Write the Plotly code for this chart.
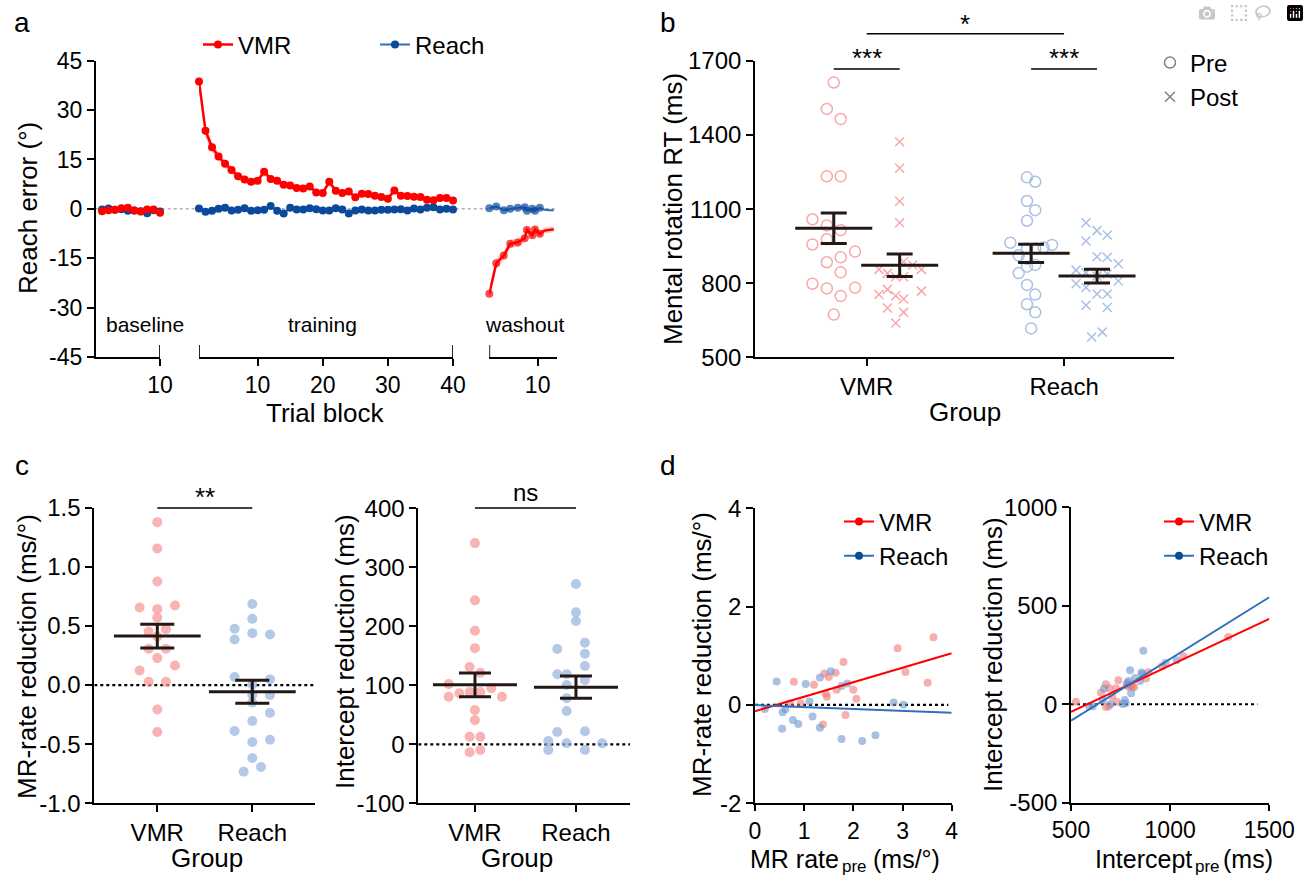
import numpy as np
import plotly.graph_objects as go

W, H = 1309, 877
FONT = "Liberation Sans, Arial, Helvetica, sans-serif"

# ---------------- Panel a data (reach error, deg) ----------------
base_blocks = [1, 2, 3, 4, 5, 6, 7, 8, 9, 10]
base_vmr = [-0.7, -0.4, -0.3, 0.2, 0.3, -0.5, -0.8, -0.2, -0.2, -1.2]
base_vmr_sem = [0.5, 0.5, 0.5, 0.5, 0.5, 0.5, 0.5, 0.5, 0.5, 0.5]
base_reach = [-0.2, 0.1, -0.3, -0.1, -0.6, -0.5, -0.7, -1.3, -0.4, -0.8]
base_reach_sem = [0.4, 0.4, 0.4, 0.4, 0.4, 0.4, 0.4, 0.4, 0.4, 0.4]

train_blocks = list(range(1, 41))
train_vmr = [38.7, 23.7, 18.7, 15.9, 13.7, 11.8, 9.9, 8.9, 8.2, 8.5,
             11.3, 9.1, 8.5, 7.3, 7.1, 6.3, 6.2, 6.8, 5.0, 4.8,
             8.2, 5.5, 4.8, 5.3, 3.5, 4.6, 4.5, 4.0, 3.6, 3.1,
             5.6, 4.0, 3.9, 3.7, 3.6, 2.8, 2.6, 3.3, 3.3, 2.5]
train_vmr_sem = [2.6, 2.0, 1.6, 1.4, 1.3, 1.2, 1.1, 1.0, 1.0, 1.0,
                 1.2, 1.0, 1.0, 0.9, 0.9, 0.9, 0.8, 0.9, 0.8, 0.8,
                 1.0, 0.8, 0.8, 0.8, 0.7, 0.8, 0.7, 0.7, 0.7, 0.7,
                 0.9, 0.7, 0.7, 0.7, 0.7, 0.6, 0.6, 0.7, 0.7, 0.7]
train_reach = [0.1, -0.9, -0.6, 0.0, 0.3, -0.5, -0.3, 0.2, -0.6, -0.4,
               -0.3, 0.9, -0.6, -1.4, 0.3, -0.2, -0.2, 0.2, -0.1, -0.5,
               -0.5, 0.2, -0.2, -1.4, -0.5, -0.2, -0.5, -0.5, -0.3, -0.3,
               -0.2, -0.1, -0.5, 0.1, -0.2, 0.3, 0.5, -0.2, 0.0, -0.2]
train_reach_sem = [0.4, 0.4, 0.4, 0.4, 0.4, 0.4, 0.4, 0.4, 0.4, 0.4,
                   0.4, 0.4, 0.4, 0.4, 0.4, 0.4, 0.4, 0.4, 0.4, 0.4,
                   0.4, 0.4, 0.4, 0.4, 0.4, 0.4, 0.4, 0.4, 0.4, 0.4,
                   0.4, 0.4, 0.4, 0.4, 0.4, 0.4, 0.4, 0.4, 0.4, 0.4]

wash_blocks = [1, 2.3, 3.7, 4.9, 6.3, 7.6, 8.0, 9.0, 9.5, 10.4, 11.3, 12.2, 13.0]
wash_marked = 10
wash_vmr = [-25.8, -16.5, -14.2, -10.6, -10.2, -8.9, -6.4, -8.0, -6.3, -7.6, -6.6, -6.3, -6.2]
wash_vmr_sem = [1.5, 1.6, 1.4, 1.3, 1.2, 1.1, 1.0, 1.0, 1.0, 1.0, 0.9, 0.9, 0.9]
wash_reach = [0.2, 0.7, -0.4, 0.0, 0.3, 0.5, -0.6, 0.0, -0.6, 0.3, -0.3, -0.4, -0.4]
wash_reach_sem = [0.4, 0.4, 0.4, 0.4, 0.4, 0.4, 0.4, 0.4, 0.4, 0.4, 0.4, 0.4, 0.4]

# ---------------- Panel b data (mental rotation RT, ms) ----------------
groups = ["VMR", "Reach"]
vmr_pre_rt = [1613, 1506, 1465, 1233, 1233, 1059, 1034, 1015, 978, 957,
              928, 905, 885, 844, 798, 779, 782, 748, 673]
vmr_pre_jit = [0, -0.035, 0.035, -0.035, 0.035, -0.108, -0.035, 0.035, -0.035, -0.108,
               0.108, 0.035, -0.035, 0.035, -0.108, -0.035, 0.108, 0.035, 0]
vmr_post_rt = [1373, 1266, 1132, 1045, 887, 874, 856, 840, 856, 826,
               826, 754, 775, 749, 736, 768, 700, 682, 639]
vmr_post_jit = [0, 0, 0, 0, 0.02, 0.066, -0.105, -0.062, 0.11, -0.02,
                0.02, -0.105, -0.062, -0.02, 0.02, 0.11, -0.062, 0.02, -0.02]
reach_pre_rt = [1229, 1211, 1133, 1096, 1053, 964, 941, 941, 945, 955,
                913, 899, 874, 867, 841, 793, 754, 715, 682, 617]
reach_pre_jit = [-0.021, 0.021, -0.021, 0.021, -0.021, -0.105, -0.021, 0.021, 0.063, 0.106,
                 -0.063, -0.021, 0.021, -0.021, -0.063, -0.021, 0.021, -0.021, 0.021, 0]
reach_post_rt = [1045, 1013, 995, 971, 907, 905, 879, 853, 843, 837,
                 829, 809, 798, 783, 756, 756, 711, 702, 582, 602]
reach_post_jit = [-0.056, 0, 0.052, -0.056, 0, 0.052, 0.108, -0.106, -0.056, 0.052,
                  0, 0.108, -0.106, -0.056, 0, 0.052, -0.056, 0.052, -0.027, 0.027]
side_offset = 0.167

# ---------------- Panel c data ----------------
c_vmr_rate = [1.378, 1.155, 0.876, 0.656, 0.642, 0.673, 0.569, 0.473, 0.453, 0.307,
              0.307, 0.228, 0.124, 0.166, 0.028, 0.028, -0.206, -0.397, 0.41]
c_vmr_rate_jit = [0, 0, 0, -0.186, 0, 0.186, 0, 0.091, -0.091, -0.091,
                  0.091, 0, -0.186, 0.186, -0.091, 0.091, 0, 0, 0]
c_reach_rate = [0.685, 0.560, 0.476, 0.386, 0.439, 0.428, 0.068, 0.048, 0.005, -0.082,
                -0.085, -0.147, -0.237, -0.389, -0.304, -0.462, -0.482, -0.617, -0.693, -0.733]
c_reach_rate_jit = [0, 0, -0.186, -0.186, 0, 0.186, -0.186, 0.186, 0, 0,
                    0.186, 0, 0.186, -0.186, 0, 0.186, 0, 0, 0.091, -0.091]
c_vmr_int = [341, 244, 192.6, 163, 131, 121.4, 102, 86.4, 88.6, 88.6,
             94.9, 80.7, 80.7, 58, 41, 12.9, 12.9, -13.6, -9.7]
c_vmr_int_jit = [0, 0, 0, 0, -0.053, 0.053, -0.26, -0.155, -0.053, 0.053,
                 0.162, -0.26, 0.267, 0, 0, -0.053, 0.053, -0.053, 0.053]
c_reach_int = [271.7, 223.7, 209, 161.5, 172.2, 153.6, 132.7, 118.6, 118.6, 100.5,
               109, 78, 56.4, 20.8, 22, 5.6, -9.7, 1.7, -9.7, 1.7]
c_reach_int_jit = [0, 0, 0, -0.185, 0.089, 0.089, 0.089, -0.185, -0.092, -0.092,
                   0.089, -0.092, -0.092, -0.185, 0.089, -0.274, -0.274, -0.092, 0.089, 0.26]

# ---------------- Panel d data (pre values, same subject order as panel c) ----------------
d_vmr_rate_pre = [3.63, 2.90, 1.80, 1.64, 1.41, 3.06, 1.50, 0.79, 3.51, 2.00,
                  1.66, 1.44, 2.06, 1.46, 0.71, 0.93, 1.84, 1.38, 1.20]
d_reach_rate_pre = [1.54, 1.32, 0.44, 1.76, 1.88, 1.03, 1.11, 2.82, 3.02, 0.20,
                    0.62, 0.56, 1.17, 0.88, 0.77, 1.32, 0.55, 2.45, 1.76, 2.18]
d_vmr_int_pre = [1293, 1066, 960, 890, 878, 739, 676, 818, 790, 810,
                 801, 692, 727, 651, 707, 525, 731, 677, 690]
d_reach_int_pre = [865, 1033, 977, 856, 798, 859, 823, 848, 790, 781,
                   785, 666, 803, 660, 771, 776, 592, 760, 610, 700]

# ---------------- styling ----------------
RED = "#ff0000"
BLUE_M = "#0b4a9b"
BLUE_L = "#2f6fbd"
PINK = "rgba(246,150,150,0.72)"
LBLUE = "rgba(150,180,222,0.72)"
PINK_D = "rgba(240,120,120,0.6)"
LBLUE_D = "rgba(110,150,205,0.6)"
PINK_O = "#f7a8a8"
LBLUE_O = "#a9c1e6"
DARK = "#231815"


def px(x):
    return x / W


def py(y):
    return 1 - y / H


def fmt(v):
    return "%g" % v


fig = go.Figure()


# ---------- Panel a ----------
def band(x, y, s, xa, color):
    xs = list(x) + list(x)[::-1]
    ys = [a + b for a, b in zip(y, s)] + [a - b for a, b in zip(y, s)][::-1]
    fig.add_trace(go.Scatter(x=xs, y=ys, xaxis=xa, yaxis="y", fill="toself", fillcolor=color,
                             line=dict(width=0), mode="lines", hoverinfo="skip", showlegend=False))


def series(x, y, xa, line_color, marker_color, lw, name=None, legend=False, sizes=8, rank=1):
    fig.add_trace(go.Scatter(x=x, y=y, xaxis=xa, yaxis="y", mode="lines+markers",
                             line=dict(color=line_color, width=lw),
                             marker=dict(color=marker_color, size=sizes, line=dict(width=0)),
                             name=name, showlegend=legend, legend="legend", legendrank=rank,
                             cliponaxis=False))


band(base_blocks, base_reach, base_reach_sem, "x", "rgba(47,111,189,0.2)")
band(train_blocks, train_reach, train_reach_sem, "x2", "rgba(47,111,189,0.2)")
band(wash_blocks, wash_reach, wash_reach_sem, "x3", "rgba(47,111,189,0.2)")
band(base_blocks, base_vmr, base_vmr_sem, "x", "rgba(255,0,0,0.2)")
band(train_blocks, train_vmr, train_vmr_sem, "x2", "rgba(255,0,0,0.2)")
band(wash_blocks, wash_vmr, wash_vmr_sem, "x3", "rgba(255,0,0,0.2)")

wash_sizes = [8 if i < wash_marked else 0 for i in range(len(wash_blocks))]
series(base_blocks, base_reach, "x", BLUE_L, BLUE_M, 2)
series(train_blocks, train_reach, "x2", BLUE_L, BLUE_M, 2, name="Reach", legend=True, rank=2)
series(wash_blocks, wash_reach, "x3", BLUE_L, BLUE_M, 2, sizes=wash_sizes)
series(base_blocks, base_vmr, "x", RED, RED, 2.5)
series(train_blocks, train_vmr, "x2", RED, RED, 2.5, name="VMR", legend=True, rank=1)
series(wash_blocks, wash_vmr, "x3", RED, RED, 2.5, sizes=wash_sizes)


# ---------- Panel b ----------
def mean_sem(vals):
    a = np.asarray(vals, dtype=float)
    return a.mean(), a.std(ddof=1) / np.sqrt(len(a))


def mean_bar(xpos, vals, xa, ya, width, cap):
    m, s = mean_sem(vals)
    fig.add_trace(go.Scatter(x=[xpos], y=[m], xaxis=xa, yaxis=ya, mode="markers",
                             marker=dict(symbol="line-ew", size=width, color=DARK,
                                         line=dict(width=3, color=DARK)),
                             error_y=dict(type="data", array=[s], width=cap, thickness=3, color=DARK),
                             showlegend=False, cliponaxis=False))


b_sets = [
    (0, -side_offset, vmr_pre_rt, vmr_pre_jit, "circle-open", PINK_O, 11),
    (0, side_offset, vmr_post_rt, vmr_post_jit, "x-thin-open", PINK_O, 9),
    (1, -side_offset, reach_pre_rt, reach_pre_jit, "circle-open", LBLUE_O, 11),
    (1, side_offset, reach_post_rt, reach_post_jit, "x-thin-open", LBLUE_O, 9),
]
for g, off, vals, jit, sym, col, sz in b_sets:
    fig.add_trace(go.Scatter(x=[g + off + j for j in jit], y=vals, xaxis="x4", yaxis="y4",
                             mode="markers",
                             marker=dict(symbol=sym, size=sz, color=col, line=dict(width=1.5, color=col)),
                             showlegend=False, cliponaxis=False))
for g, off, vals, jit, sym, col, sz in b_sets:
    mean_bar(g + off, vals, "x4", "y4", 55, 13)

fig.add_trace(go.Scatter(x=[None], y=[None], xaxis="x4", yaxis="y4", mode="markers", name="Pre",
                         marker=dict(symbol="circle-open", size=11, color="#808080", line=dict(width=1.5)),
                         legend="legend2", showlegend=True))
fig.add_trace(go.Scatter(x=[None], y=[None], xaxis="x4", yaxis="y4", mode="markers", name="Post",
                         marker=dict(symbol="x-thin-open", size=10, color="#808080",
                                     line=dict(width=1.5, color="#808080")),
                         legend="legend2", showlegend=True))

# ---------- Panel c ----------
c_sets = [
    ("x5", "y5", 0, c_vmr_rate, c_vmr_rate_jit, PINK, 62, 17),
    ("x5", "y5", 1, c_reach_rate, c_reach_rate_jit, LBLUE, 62, 17),
    ("x6", "y6", 0, c_vmr_int, c_vmr_int_jit, PINK, 60, 16),
    ("x6", "y6", 1, c_reach_int, c_reach_int_jit, LBLUE, 60, 16),
]
for xa, ya, g, vals, jit, col, mw, cw in c_sets:
    fig.add_trace(go.Scatter(x=[g + j for j in jit], y=vals, xaxis=xa, yaxis=ya, mode="markers",
                             marker=dict(size=10, color=col, line=dict(width=0)),
                             showlegend=False, cliponaxis=False))
for xa, ya, g, vals, jit, col, mw, cw in c_sets:
    mean_bar(g, vals, xa, ya, mw, cw)

# ---------- Panel d ----------
d_sets = [
    ("x7", "y7", d_vmr_rate_pre, c_vmr_rate, PINK_D, RED, [0, 4]),
    ("x7", "y7", d_reach_rate_pre, c_reach_rate, LBLUE_D, BLUE_L, [0, 4]),
    ("x8", "y8", d_vmr_int_pre, c_vmr_int, PINK_D, RED, [500, 1500]),
    ("x8", "y8", d_reach_int_pre, c_reach_int, LBLUE_D, BLUE_L, [500, 1500]),
]
for xa, ya, xs, ys, pcol, lcol, xr in d_sets:
    fig.add_trace(go.Scatter(x=xs, y=ys, xaxis=xa, yaxis=ya, mode="markers",
                             marker=dict(size=8, color=pcol, line=dict(width=0)),
                             showlegend=False, cliponaxis=False))
for xa, ya, xs, ys, pcol, lcol, xr in d_sets:
    k, b = np.polyfit(xs, ys, 1)
    fig.add_trace(go.Scatter(x=xr, y=[k * xr[0] + b, k * xr[1] + b], xaxis=xa, yaxis=ya, mode="lines",
                             line=dict(color=lcol, width=2), showlegend=False, cliponaxis=False))

for lg, xa, ya in [("legend3", "x7", "y7"), ("legend4", "x8", "y8")]:
    fig.add_trace(go.Scatter(x=[None], y=[None], xaxis=xa, yaxis=ya, mode="lines+markers", name="VMR",
                             line=dict(color=RED, width=2), marker=dict(color=RED, size=8),
                             legend=lg, showlegend=True, legendrank=1))
    fig.add_trace(go.Scatter(x=[None], y=[None], xaxis=xa, yaxis=ya, mode="lines+markers", name="Reach",
                             line=dict(color=BLUE_L, width=2), marker=dict(color=BLUE_M, size=8),
                             legend=lg, showlegend=True, legendrank=2))


# ---------- axes ----------
def axis(dom, rng, tickvals, anchor, ticktext=None, size=24, vertical=False, tickfmt=None, ticklen=7):
    if ticktext is None:
        ticktext = [tickfmt(v) if tickfmt else fmt(v) for v in tickvals]
    d = dict(range=rng, anchor=anchor, tickmode="array", tickvals=tickvals, ticktext=ticktext,
             showline=True, linecolor="black", linewidth=1.7, ticks="outside", ticklen=ticklen,
             tickwidth=1.7, tickcolor="black", showgrid=False, zeroline=False, fixedrange=True,
             automargin=False, tickfont=dict(size=size, color="black", family=FONT))
    if vertical:
        d["domain"] = [py(dom[0]), py(dom[1])]
    else:
        d["domain"] = [px(dom[0]), px(dom[1])]
    return d


def one_dec(v):
    return "%.1f" % v


layout_axes = dict(
    xaxis=axis([95.7, 160], [0, 10], [10], "y", size=23),
    xaxis2=axis([199, 453], [1, 40], [10, 20, 30, 40], "y", size=23),
    xaxis3=axis([489.3, 557], [1, 13.6], [10], "y", size=23),
    yaxis=axis([357, 60.7], [-45, 45], [-45, -30, -15, 0, 15, 30, 45], "x", size=23, vertical=True),
    xaxis4=axis([755, 1174], [-0.566, 1.557], [0, 1], "y4", ticktext=groups),
    yaxis4=axis([357.3, 61], [500, 1700], [500, 800, 1100, 1400, 1700], "x4", vertical=True),
    xaxis5=axis([94.3, 315], [-0.663, 1.66], [0, 1], "y5", ticktext=groups),
    yaxis5=axis([803.3, 507.7], [-1, 1.5], [-1, -0.5, 0, 0.5, 1, 1.5], "x5", vertical=True, tickfmt=one_dec),
    xaxis6=axis([418.3, 630], [-0.561, 1.535], [0, 1], "y6", ticktext=groups),
    yaxis6=axis([803.3, 508.3], [-100, 400], [-100, 0, 100, 200, 300, 400], "x6", vertical=True),
    xaxis7=axis([755, 951.7], [0, 4], [0, 1, 2, 3, 4], "y7", size=23, ticklen=6),
    yaxis7=axis([803.3, 508.3], [-2, 4], [-2, 0, 2, 4], "x7", vertical=True),
    xaxis8=axis([1071, 1269.3], [500, 1500], [500, 1000, 1500], "y8", size=23, ticklen=6),
    yaxis8=axis([802.7, 507.3], [-500, 1000], [-500, 0, 500, 1000], "x8", vertical=True),
)

# ---------- shapes ----------
shapes = []
shapes.append(dict(type="line", xref="paper", yref="y", x0=px(95.7), x1=px(557), y0=0, y1=0,
                   line=dict(color="#8a8a8a", width=1, dash="dot"), layer="below"))
for xr, xv in [("x", 10), ("x2", 1), ("x2", 40), ("x3", 1)]:
    shapes.append(dict(type="line", xref=xr, yref="y", x0=xv, x1=xv, ysizemode="pixel", yanchor=-45,
                       y0=-12, y1=12, line=dict(color="black", width=1.7)))
for xr, yr, x0, x1 in [("x5", "y5", -0.663, 1.66), ("x6", "y6", -0.561, 1.535),
                       ("x7", "y7", 0, 3.93), ("x8", "y8", 500, 1440)]:
    shapes.append(dict(type="line", xref=xr, yref=yr, x0=x0, x1=x1, y0=0, y1=0,
                       line=dict(color="black", width=2.2, dash="dot"), layer="below"))
for xr, a, b, ypx in [("x4", 0, 1, 33.7), ("x4", -side_offset, side_offset, 69),
                      ("x4", 1 - side_offset, 1 + side_offset, 69),
                      ("x5", 0, 1, 508), ("x6", 0, 1, 508)]:
    shapes.append(dict(type="line", xref=xr, yref="paper", x0=a, x1=b, y0=py(ypx), y1=py(ypx),
                       line=dict(color="black", width=1.6)))

# ---------- annotations ----------
anns = []


def ann(text, x, y, size=26, angle=0, xref="paper", yref="paper", xanchor="center", yanchor="middle"):
    anns.append(dict(text=text, x=x, y=y, xref=xref, yref=yref, showarrow=False, textangle=angle,
                     xanchor=xanchor, yanchor=yanchor, borderpad=0,
                     font=dict(size=size, color="black", family=FONT)))


ann("a", px(22), py(22), size=28)
ann("b", px(668), py(22), size=28)
ann("c", px(22), py(465), size=28)
ann("d", px(668), py(465), size=28)

ann("Reach error (°)", px(28), py(208), angle=-90)
ann("Trial block", px(325), py(413))
ann("baseline", 7.7, -35, size=21, xref="x", yref="y")
ann("training", 20, -35, size=21, xref="x2", yref="y")
ann("washout", 7.5, -35, size=21, xref="x3", yref="y")

ann("Mental rotation RT (ms)", px(673), py(209), angle=-90)
ann("Group", px(965), py(412))
ann("*", 0.5, py(24), size=26, xref="x4")
ann("***", 0, py(58), size=26, xref="x4")
ann("***", 1, py(58), size=26, xref="x4")

ann("MR-rate reduction (ms/°)", px(27), py(657), angle=-90)
ann("Group", px(207), py(858))
ann("**", 0.5, py(497), size=26, xref="x5")
ann("Intercept reduction (ms)", px(345), py(652), angle=-90)
ann("Group", px(517), py(858))
ann("ns", 0.5, py(492), size=24, xref="x6")

ann("MR-rate reduction (ms/°)", px(702), py(655), angle=-90)
ann("Intercept reduction (ms)", px(993), py(655), angle=-90)
# x titles with subscript "pre", written as three text pieces
ann("MR rate", px(840), py(859), size=25, xanchor="right")
ann("pre", px(841), py(866), size=17, xanchor="left")
ann("(ms/°)", px(872), py(859), size=25, xanchor="left")
ann("Intercept", px(1193), py(859), size=25, xanchor="right")
ann("pre", px(1194), py(866), size=17, xanchor="left")
ann("(ms)", px(1222), py(859), size=25, xanchor="left")

leg_common = dict(bgcolor="rgba(0,0,0,0)", borderwidth=0, font=dict(size=24, color="black", family=FONT))

fig.update_layout(
    width=W, height=H, margin=dict(l=0, r=0, t=0, b=0, autoexpand=False),
    paper_bgcolor="white", plot_bgcolor="rgba(0,0,0,0)",
    font=dict(family=FONT, color="black"),
    shapes=shapes, annotations=anns,
    legend=dict(orientation="h", x=px(198), y=py(45), xanchor="left", yanchor="middle",
                entrywidth=132, traceorder="normal", **leg_common),
    legend2=dict(x=px(1150), y=py(80), xanchor="left", yanchor="middle", tracegroupgap=0, **leg_common),
    legend3=dict(x=px(839), y=py(539), xanchor="left", yanchor="middle", **leg_common),
    legend4=dict(x=px(1159), y=py(539), xanchor="left", yanchor="middle", **leg_common),
    **layout_axes,
)

fig.write_html("out.html", post_script="document.body.style.margin='0px';")
